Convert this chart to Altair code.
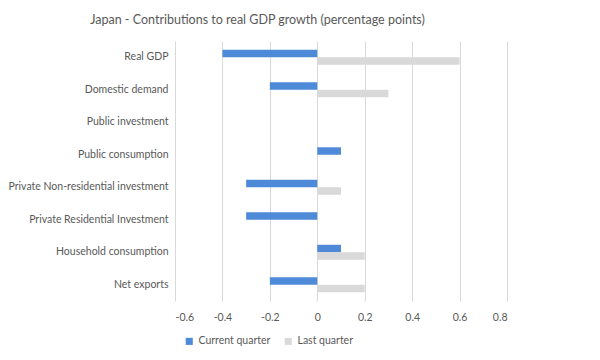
import altair as alt
import pandas as pd

categories = [
    "Real GDP",
    "Domestic demand",
    "Public investment",
    "Public consumption",
    "Private Non-residential investment",
    "Private Residential Investment",
    "Household consumption",
    "Net exports",
]
current_quarter = [-0.4, -0.2, 0.0, 0.1, -0.3, -0.3, 0.1, -0.2]
last_quarter = [0.6, 0.3, 0.0, 0.0, 0.1, 0.0, 0.2, 0.2]
series = ["Current quarter", "Last quarter"]
x_ticks = [-0.6, -0.4, -0.2, 0.0, 0.2, 0.4, 0.6, 0.8]

rows = []
for c, a, b in zip(categories, current_quarter, last_quarter):
    rows.append({"category": c, "series": series[0], "value": a})
    rows.append({"category": c, "series": series[1], "value": b})
df = pd.DataFrame(rows)

FONT = "Lato, sans-serif"
TXT = "#595959"
FS = 10.5

chart = (
    alt.Chart(df)
    .mark_bar()
    .encode(
        y=alt.Y(
            "category:N",
            sort=categories,
            title=None,
            scale=alt.Scale(paddingInner=0.54, paddingOuter=0.27),
            axis=alt.Axis(
                ticks=False,
                domain=False,
                grid=False,
                labelPadding=7,
                labelFontSize=FS,
                labelColor=TXT,
                labelFont=FONT,
                labelLimit=300,
            ),
        ),
        yOffset=alt.YOffset("series:N", sort=series),
        x=alt.X(
            "value:Q",
            title=None,
            scale=alt.Scale(domain=[-0.6, 0.8], nice=False, zero=False),
            axis=alt.Axis(
                values=x_ticks,
                labelExpr="toString(round(datum.value*10)/10)",
                ticks=False,
                domain=False,
                gridColor="#d9d9d9",
                labelFontSize=FS,
                labelColor=TXT,
                labelFont=FONT,
                labelPadding=11,
            ),
        ),
        color=alt.Color(
            "series:N",
            sort=series,
            scale=alt.Scale(domain=series, range=["#4f8ad8", "#d9d9d9"]),
            legend=alt.Legend(
                title=None,
                orient="none",
                direction="horizontal",
                legendX=9,
                legendY=295,
                symbolType="square",
                symbolSize=50,
                labelFontSize=FS,
                labelColor=TXT,
                labelFont=FONT,
                columnPadding=12,
            ),
        ),
    )
    .properties(
        width=332,
        height=260,
        padding={"left": 0, "top": 5, "right": 5, "bottom": 5},
        title=alt.Title(
            "Japan - Contributions to real GDP growth (percentage points)",
            fontSize=12.5,
            fontWeight="normal",
            color=TXT,
            font=FONT,
            anchor="middle",
            frame="bounds",
            offset=15,
        ),
    )
    .configure_view(stroke=None)
)

chart.save("out.html", embed_options={"renderer": "svg", "actions": False})
